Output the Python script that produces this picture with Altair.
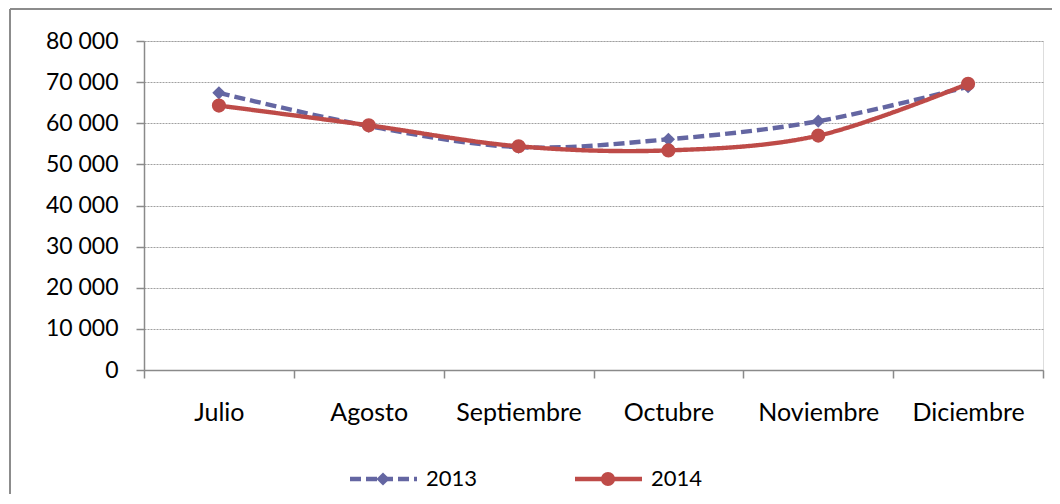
import altair as alt
import pandas as pd

months = ["Julio", "Agosto", "Septiembre", "Octubre", "Noviembre", "Diciembre"]
years = ["2013", "2014"]
values_2013 = [67400, 59300, 54200, 56100, 60500, 68900]
values_2014 = [64300, 59500, 54400, 53400, 57000, 69600]
colors = ["#6466a2", "#be4b48"]
dashes = [[11, 5], [1, 0]]
shapes = ["diamond", "circle"]
y_ticks = [0, 10000, 20000, 30000, 40000, 50000, 60000, 70000, 80000]

rows = []
for m, v in zip(months, values_2013):
    rows.append({"mes": m, "anio": "2013", "valor": v})
for m, v in zip(months, values_2014):
    rows.append({"mes": m, "anio": "2014", "valor": v})
df = pd.DataFrame(rows)
df_leg = pd.DataFrame({"anio": years})

FONT = "Lato"
AXIS_GRAY = "#8a8a8a"

color_scale = alt.Scale(domain=years, range=colors)
dash_scale = alt.Scale(domain=years, range=dashes)
shape_scale = alt.Scale(domain=years, range=shapes)
size_scale = alt.Scale(domain=years, range=[175, 200])

x_enc = alt.X(
    "mes:N", sort=months, bandPosition=0.5,
    scale=alt.Scale(type="band", paddingInner=0, paddingOuter=0),
    axis=alt.Axis(title=None, tickBand="extent", labelAngle=0, grid=False,
                  domainColor=AXIS_GRAY, tickColor=AXIS_GRAY, domainWidth=1.5,
                  tickWidth=1.5, tickSize=8, labelPadding=22,
                  labelFont=FONT, labelFontSize=25, labelColor="#000000"),
)
y_enc = alt.Y(
    "valor:Q",
    scale=alt.Scale(domain=[0, 80000], nice=False),
    axis=alt.Axis(title=None, values=y_ticks,
                  labelExpr="replace(format(datum.value, ','), ',', ' ')",
                  grid=True, gridColor="#a0a0a0", gridDash=[2, 1], gridWidth=1,
                  domainColor=AXIS_GRAY, tickColor=AXIS_GRAY, domainWidth=1.5,
                  tickWidth=1.5, tickSize=8, labelPadding=18,
                  labelFont=FONT, labelFontSize=23, labelColor="#000000"),
)

lines = alt.Chart(df).mark_line(interpolate="cardinal", strokeWidth=4.4).encode(
    x=x_enc, y=y_enc,
    color=alt.Color("anio:N", scale=color_scale, legend=None),
    strokeDash=alt.StrokeDash("anio:N", scale=dash_scale, legend=None),
)

points = alt.Chart(df).mark_point(filled=True, opacity=1).encode(
    x=x_enc, y=y_enc,
    color=alt.Color("anio:N", scale=color_scale, legend=None),
    shape=alt.Shape("anio:N", scale=shape_scale, legend=None),
    size=alt.Size("anio:N", scale=size_scale, legend=None),
)

main = alt.layer(lines, points)

# legend built from the years list, placed through its own point scale
leg_x = alt.X("anio:N", scale=alt.Scale(type="point", domain=years, range=[239, 464], padding=0),
              axis=None)
LEG_Y = alt.value(438)

leg_line = alt.Chart(df_leg).mark_rule(strokeWidth=4.4, xOffset=-33, x2Offset=34).encode(
    x=leg_x, x2="anio:N", y=LEG_Y,
    color=alt.Color("anio:N", scale=color_scale, legend=None),
    strokeDash=alt.StrokeDash("anio:N", scale=dash_scale, legend=None),
)
leg_pt = alt.Chart(df_leg).mark_point(filled=True, opacity=1).encode(
    x=leg_x, y=LEG_Y,
    color=alt.Color("anio:N", scale=color_scale, legend=None),
    shape=alt.Shape("anio:N", scale=shape_scale, legend=None),
    size=alt.Size("anio:N", scale=size_scale, legend=None),
)
leg_txt = alt.Chart(df_leg).mark_text(align="left", baseline="middle", dx=43, font=FONT,
                                       fontSize=22, color="#000000").encode(
    x=leg_x, y=LEG_Y, text="anio:N",
)
legend = alt.layer(leg_line, leg_pt, leg_txt)

frame_v = alt.Chart(alt.Data(values=[{}])).mark_rule(color="#8c8c8c", strokeWidth=2).encode(
    x=alt.value(-134), y=alt.value(-32), y2=alt.value(600)
)
frame_h = alt.Chart(alt.Data(values=[{}])).mark_rule(color="#8c8c8c", strokeWidth=2).encode(
    x=alt.value(-134), x2=alt.value(1100), y=alt.value(-32)
)

chart = alt.layer(main, legend, frame_v, frame_h).resolve_scale(x="independent").properties(
    width=899, height=329,
    autosize=alt.AutoSizeParams(type="none"),
    padding={"left": 136, "top": 33, "right": 9, "bottom": 124},
).configure_view(stroke=None).configure(background="white")

chart.save("out.html", embed_options={"renderer": "svg", "actions": False})
